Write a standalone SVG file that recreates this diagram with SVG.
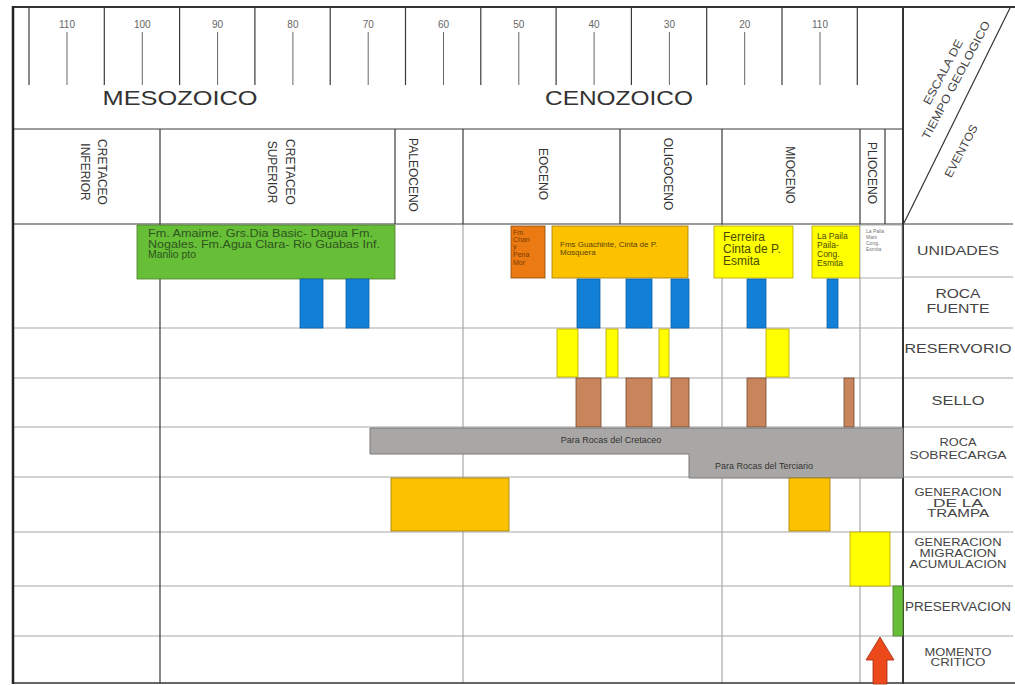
<svg xmlns="http://www.w3.org/2000/svg" width="1015" height="685" viewBox="0 0 1015 685">
<defs>
<style>
text{font-family:"Liberation Sans",Arial,sans-serif;}
.num{font-size:10px;fill:#666;text-anchor:middle}
.era{font-size:21px;fill:#333;text-anchor:middle}
.ep{font-size:12px;fill:#333;text-anchor:middle}
.lbl{fill:#444;text-anchor:middle}
.l13{font-size:13px}
.l10{font-size:10px}
.l12{font-size:12px}
.grid{stroke:#a8a8a8;stroke-width:1.2;fill:none}
.dk{stroke:#3a3a3a;stroke-width:1.2;fill:none}
.tk{stroke:#666;stroke-width:1;fill:none}
.blue{fill:#1380d8;stroke:#0d5fa5;stroke-width:0.8}
.yel{fill:#ffff00;stroke:#b5a200;stroke-width:0.8}
.brn{fill:#c8845a;stroke:#6e4a30;stroke-width:0.8}
.org{fill:#fcc200;stroke:#a07a00;stroke-width:0.8}
.grn{fill:#66bf36;stroke:#4d7d33;stroke-width:0.8}
</style>
</defs>
<rect width="1015" height="685" fill="#fff"/>

<g id="grid">
  <path class="grid" d="M13 328H1013M13 378H1013M13 427H1013M13 477H1013M13 532H1013M13 586H1013M13 636H1013M903 277H1013"/>
  <path class="grid" d="M463 224V683M722 224V683M860 224V683"/>
  <path class="dk" d="M160 224V683"/>
  <path class="dk" d="M13 129H903M13 224H1013M160 129V224M395 129V224M463 129V224M620 129V224M722 129V224M860 129V224M885 129V224"/>
  <path class="dk" d="M29 7V85M104.3 7V85M179.6 7V85M254.9 7V85M330.2 7V85M405.5 7V85M480.8 7V85M556.1 7V85M631.4 7V85M706.7 7V85M782 7V85M857.3 7V85"/>
  <path class="tk" d="M67 32V85M142.3 32V85M217.6 32V85M292.9 32V85M368.2 32V85M443.5 32V85M518.8 32V85M594.1 32V85M669.4 32V85M744.7 32V85M820 32V85"/>
  <path stroke="#333" stroke-width="2" fill="none" d="M12 7H1015"/>
  <path stroke="#222" stroke-width="2.5" fill="none" d="M13 6V684"/>
  <path stroke="#333" stroke-width="1.6" fill="none" d="M13 683H1015"/>
  <path stroke="#333" stroke-width="2" fill="none" d="M903 7V684"/>
  <path stroke="#333" stroke-width="1.2" fill="none" d="M904 223L1010 8"/>
</g>

<g id="header">
  <text class="num" x="67" y="28">110</text>
  <text class="num" x="142.3" y="28">100</text>
  <text class="num" x="217.6" y="28">90</text>
  <text class="num" x="292.9" y="28">80</text>
  <text class="num" x="368.2" y="28">70</text>
  <text class="num" x="443.5" y="28">60</text>
  <text class="num" x="518.8" y="28">50</text>
  <text class="num" x="594.1" y="28">40</text>
  <text class="num" x="669.4" y="28">30</text>
  <text class="num" x="744.7" y="28">20</text>
  <text class="num" x="820" y="28">110</text>
  <text class="era" x="180" y="105" textLength="155" lengthAdjust="spacingAndGlyphs">MESOZOICO</text>
  <text class="era" x="619" y="105" textLength="148" lengthAdjust="spacingAndGlyphs">CENOZOICO</text>
</g>

<g id="corner">
  <text class="lbl" font-size="11.5" transform="translate(943,72) rotate(-62)" y="4" textLength="72" lengthAdjust="spacingAndGlyphs">ESCALA DE</text>
  <text class="lbl" font-size="11.5" transform="translate(956,80) rotate(-62)" y="4" textLength="132" lengthAdjust="spacingAndGlyphs">TIEMPO GEOLOGICO</text>
  <text class="lbl" font-size="11.5" transform="translate(961,151) rotate(-62)" y="4" textLength="58" lengthAdjust="spacingAndGlyphs">EVENTOS</text>
</g>

<g id="epochs">
  <text class="ep" transform="translate(102,172) rotate(90)" y="4.3">CRETACEO</text>
  <text class="ep" transform="translate(85,172) rotate(90)" y="4.3">INFERIOR</text>
  <text class="ep" transform="translate(290,172) rotate(90)" y="4.3">CRETACEO</text>
  <text class="ep" transform="translate(272,172) rotate(90)" y="4.3">SUPERIOR</text>
  <text class="ep" transform="translate(413,175) rotate(90)" y="4.3">PALEOCENO</text>
  <text class="ep" transform="translate(543,174) rotate(90)" y="4.3">EOCENO</text>
  <text class="ep" transform="translate(668,174) rotate(90)" y="4.3">OLIGOCENO</text>
  <text class="ep" transform="translate(790,175) rotate(90)" y="4.3">MIOCENO</text>
  <text class="ep" transform="translate(872,173) rotate(90)" y="4.3">PLIOCENO</text>
</g>

<g id="unidades">
  <g id="u-cretaceo">
    <rect class="grn" x="137" y="225" width="258" height="54"/>
    <g font-size="10" fill="#2f5420">
      <text x="148" y="237" textLength="225" lengthAdjust="spacingAndGlyphs">Fm. Amaime. Grs.Dia Basic- Dagua Fm.</text>
      <text x="148" y="248" textLength="232" lengthAdjust="spacingAndGlyphs">Nogales. Fm.Agua Clara- Rio Guabas Inf.</text>
      <text x="148" y="258" textLength="48" lengthAdjust="spacingAndGlyphs">Manlio pto</text>
    </g>
  </g>
  <g id="u-chan">
    <rect x="511" y="226" width="34" height="52" fill="#eb7a12" stroke="#8a4a10" stroke-width="0.8"/>
    <g font-size="7" fill="#7a3a00">
      <text x="513" y="235">Fm.</text>
      <text x="513" y="242">Chan</text>
      <text x="513" y="249">y</text>
      <text x="513" y="257">Pena</text>
      <text x="513" y="265">Mor</text>
    </g>
  </g>
  <g id="u-guachinte">
    <rect class="org" x="552" y="226" width="136" height="52"/>
    <g font-size="8" fill="#5a4000">
      <text x="560" y="247">Fms Guachinte, Cinta de P.</text>
      <text x="560" y="255">Mosquera</text>
    </g>
  </g>
  <g id="u-ferreira">
    <rect class="yel" x="714" y="226" width="79" height="52"/>
    <g font-size="12" fill="#4a4a00">
      <text x="723" y="241">Ferreira</text>
      <text x="723" y="253">Cinta de P.</text>
      <text x="723" y="265">Esmita</text>
    </g>
  </g>
  <g id="u-lapaila">
    <rect class="yel" x="812" y="226" width="48" height="52"/>
    <g font-size="8.5" fill="#4a4a00">
      <text x="817" y="239">La Paila</text>
      <text x="817" y="248">Paila-</text>
      <text x="817" y="257">Cong.</text>
      <text x="817" y="266">Esmita</text>
    </g>
  </g>
  <g id="u-plio">
    <rect x="860" y="225" width="42" height="53" fill="#fff" stroke="#999" stroke-width="0.8"/>
    <g font-size="5" fill="#777">
      <text x="866" y="233">La Paila</text>
      <text x="866" y="239">Mars</text>
      <text x="866" y="245">Cong.</text>
      <text x="866" y="251">Esmita</text>
    </g>
  </g>
</g>

<g id="roca-fuente">
  <rect class="blue" x="300" y="279" width="23" height="49"/>
  <rect class="blue" x="346" y="279" width="23" height="49"/>
  <rect class="blue" x="577" y="279" width="23" height="49"/>
  <rect class="blue" x="626" y="279" width="26" height="49"/>
  <rect class="blue" x="671" y="279" width="18" height="49"/>
  <rect class="blue" x="747" y="279" width="19" height="49"/>
  <rect class="blue" x="827" y="279" width="11" height="49"/>
</g>

<g id="reservorio">
  <rect class="yel" x="557" y="329" width="21" height="48"/>
  <rect class="yel" x="606" y="329" width="12" height="48"/>
  <rect class="yel" x="659" y="329" width="10" height="48"/>
  <rect class="yel" x="766" y="329" width="23" height="48"/>
</g>

<g id="sello">
  <rect class="brn" x="576" y="378" width="25" height="49"/>
  <rect class="brn" x="626" y="378" width="26" height="49"/>
  <rect class="brn" x="671" y="378" width="18" height="49"/>
  <rect class="brn" x="747" y="378" width="19" height="49"/>
  <rect class="brn" x="844" y="378" width="10" height="49"/>
</g>

<g id="sobrecarga">
  <polygon points="370,428 903,428 903,478 689,478 689,454 370,454" fill="#a9a7a5" stroke="#7a7a7a" stroke-width="1"/>
  <text x="611" y="443" font-size="9" fill="#333" text-anchor="middle">Para Rocas del Cretaceo</text>
  <text x="764" y="469" font-size="9" fill="#333" text-anchor="middle">Para Rocas del Terciario</text>
</g>

<g id="trampa">
  <rect class="org" x="391" y="478" width="118" height="53"/>
  <rect class="org" x="789" y="478" width="41" height="53"/>
</g>

<g id="generacion">
  <rect class="yel" x="850" y="532" width="40" height="54"/>
</g>

<g id="preservacion">
  <rect class="grn" x="893" y="586" width="10" height="50"/>
</g>

<g id="momento">
  <polygon points="880,637 894,660 887,660 887,684 873,684 873,660 866,660" fill="#ec4a1a" stroke="#a02a10" stroke-width="0.8"/>
</g>

<g id="labels">
  <text class="lbl l13" x="958" y="255" textLength="82" lengthAdjust="spacingAndGlyphs">UNIDADES</text>
  <text class="lbl l13" x="958" y="298" textLength="45" lengthAdjust="spacingAndGlyphs">ROCA</text>
  <text class="lbl l13" x="958" y="313" textLength="63" lengthAdjust="spacingAndGlyphs">FUENTE</text>
  <text class="lbl l13" x="958" y="353" textLength="107" lengthAdjust="spacingAndGlyphs">RESERVORIO</text>
  <text class="lbl l13" x="958" y="405" textLength="53" lengthAdjust="spacingAndGlyphs">SELLO</text>
  <text class="lbl l10" x="958" y="446" textLength="37" lengthAdjust="spacingAndGlyphs">ROCA</text>
  <text class="lbl l10" x="958" y="459" textLength="97" lengthAdjust="spacingAndGlyphs">SOBRECARGA</text>
  <text class="lbl l10" x="958" y="496" textLength="87" lengthAdjust="spacingAndGlyphs">GENERACION</text>
  <text class="lbl l10" x="958" y="506.5" textLength="50" lengthAdjust="spacingAndGlyphs">DE LA</text>
  <text class="lbl l10" x="958" y="517" textLength="62" lengthAdjust="spacingAndGlyphs">TRAMPA</text>
  <text class="lbl l10" x="958" y="545.6" textLength="87" lengthAdjust="spacingAndGlyphs">GENERACION</text>
  <text class="lbl l10" x="958" y="556.6" textLength="77" lengthAdjust="spacingAndGlyphs">MIGRACION</text>
  <text class="lbl l10" x="958" y="567.6" textLength="97" lengthAdjust="spacingAndGlyphs">ACUMULACION</text>
  <text class="lbl l12" x="958" y="611.3" textLength="106" lengthAdjust="spacingAndGlyphs">PRESERVACION</text>
  <text class="lbl l10" x="958" y="655.6" textLength="67" lengthAdjust="spacingAndGlyphs">MOMENTO</text>
  <text class="lbl l10" x="958" y="665.6" textLength="55" lengthAdjust="spacingAndGlyphs">CRITICO</text>
</g>
</svg>
